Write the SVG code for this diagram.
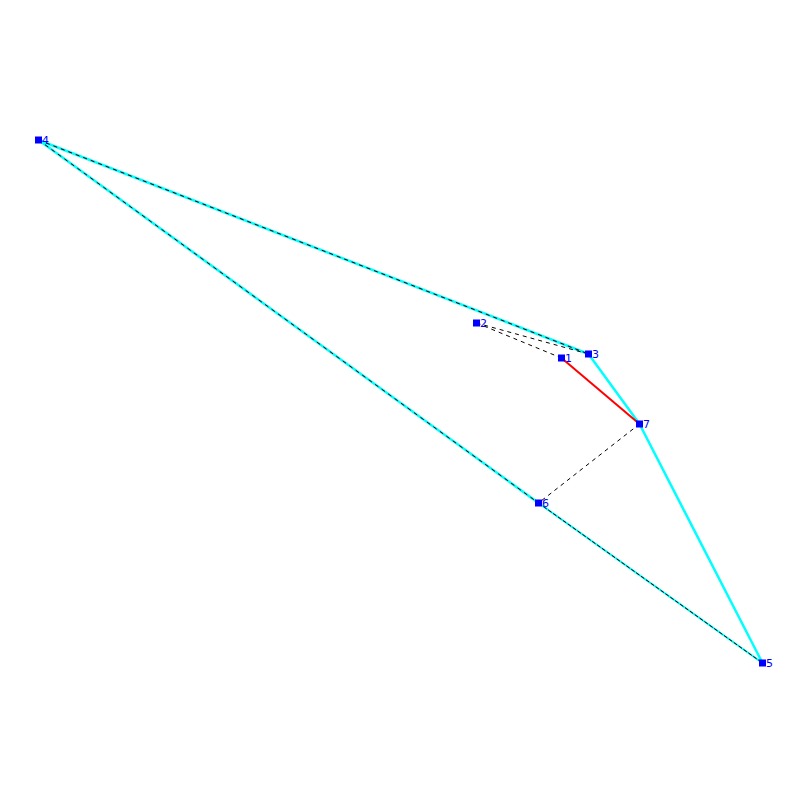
<svg xmlns="http://www.w3.org/2000/svg" width="800" height="800" viewBox="0 0 800 800">
<style>
.c{stroke:#00ffff;stroke-width:2.5;fill:none}
.c2{stroke:#00ffff;stroke-width:2;fill:none}
.d{stroke:#000;stroke-width:1;stroke-dasharray:4,4;fill:none}
.d2{stroke:#000;stroke-width:1;stroke-dasharray:4,2;fill:none}
.r{stroke:#ff0000;stroke-width:2;fill:none}
.n rect{fill:#0000ff}
.n text{fill:#0000ff;font-family:"DejaVu Sans",sans-serif;font-size:11px}
</style>
<rect width="800" height="800" fill="#fff"/>
<g id="connectors">
<line class="c" x1="38.5" y1="140" x2="588.5" y2="354"/>
<line class="c" x1="38.5" y1="140" x2="538.5" y2="503"/>
<line class="c2" x1="538.5" y1="503" x2="762.5" y2="663"/>
<line class="c" x1="588.5" y1="354" x2="639.5" y2="424"/>
<line class="c" x1="639.5" y1="424" x2="762.5" y2="663"/>
<line class="d" x1="38.5" y1="140" x2="588.5" y2="354"/>
<line class="d" x1="38.5" y1="140" x2="538.5" y2="503"/>
<line class="d2" x1="538.5" y1="503" x2="762.5" y2="663"/>
<line class="d" x1="476.5" y1="323" x2="588.5" y2="354"/>
<line class="d" x1="476.5" y1="323" x2="561.5" y2="358"/>
<line class="d" x1="639.5" y1="424" x2="538.5" y2="503"/>
<line class="r" x1="561.5" y1="358" x2="639.5" y2="424"/>
</g>
<g id="n1" class="n"><rect x="558" y="354.5" width="7" height="7"/><text x="565" y="362">1</text></g>
<g id="n2" class="n"><rect x="473" y="319.5" width="7" height="7"/><text x="480" y="327">2</text></g>
<g id="n3" class="n"><rect x="585" y="350.5" width="7" height="7"/><text x="592" y="358">3</text></g>
<g id="n4" class="n"><rect x="35" y="136.5" width="7" height="7"/><text x="42" y="144">4</text></g>
<g id="n5" class="n"><rect x="759" y="659.5" width="7" height="7"/><text x="766" y="667">5</text></g>
<g id="n6" class="n"><rect x="535" y="499.5" width="7" height="7"/><text x="542" y="507">6</text></g>
<g id="n7" class="n"><rect x="636" y="420.5" width="7" height="7"/><text x="643" y="428">7</text></g>
</svg>
